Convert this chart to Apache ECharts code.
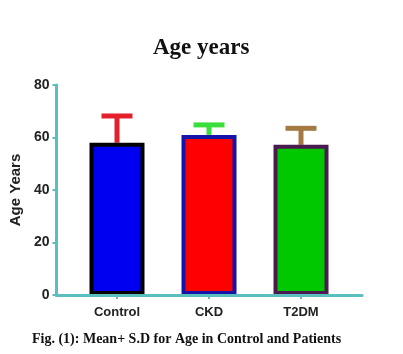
<!DOCTYPE html>
<html>
<head>
<meta charset="utf-8">
<script src="https://cdn.jsdelivr.net/npm/echarts@6/dist/echarts.min.js"></script>
<style>
html,body{margin:0;padding:0;background:#fff;}
#chart{width:403px;height:354px;}
</style>
</head>
<body>
<div id="chart"></div>
<script>
var categories = ['Control', 'CKD', 'T2DM'];
var meanValues = [58.0, 61.0, 57.2];
var sdValues = [10.2, 3.8, 6.3];
var yTicks = [0, 20, 40, 60, 80];

var fillColors = ['#0000f0', '#ff0000', '#00c800'];
var borderColors = ['#000000', '#1414a8', '#4b1a4e'];
var errColors = ['#e3202c', '#3ade3a', '#a27a42'];
var axisColor = '#5cbfbf';

var chart = echarts.init(document.getElementById('chart'), null, {renderer: 'canvas'});

var barData = meanValues.map(function (v, i) {
  return {
    value: v,
    itemStyle: {color: fillColors[i], borderColor: borderColors[i], borderWidth: 4}
  };
});
var errData = meanValues.map(function (v, i) { return [i, v, v + sdValues[i]]; });

var option = {
  animation: false,
  backgroundColor: '#ffffff',
  title: [{
    text: 'Age years',
    left: 148, top: 32,
    textStyle: {fontFamily: 'Liberation Serif', fontWeight: 'bold', fontSize: 23, color: '#111'}
  }, {
    text: 'Fig. (1): Mean+ S.D for Age in Control and Patients',
    left: 27, top: 327,
    textStyle: {fontFamily: 'Liberation Serif', fontWeight: 'bold', fontSize: 14, color: '#111'}
  }],
  grid: [
    {left: 55, right: 41, top: 85, bottom: 59},
    {left: 71, right: 56, top: 85, bottom: 59}
  ],
  xAxis: [{
    gridIndex: 0, type: 'category', data: ['', '', ''], z: 5,
    axisLine: {show: true, lineStyle: {color: axisColor, width: 3}},
    axisTick: {show: false}, axisLabel: {show: false}, splitLine: {show: false}
  }, {
    gridIndex: 1, type: 'category', data: categories,
    axisLine: {show: false},
    axisTick: {show: true, alignWithLabel: true, length: 4, lineStyle: {color: axisColor, width: 2}},
    axisLabel: {fontFamily: 'Liberation Sans', fontWeight: 'bold', fontSize: 13, color: '#222', margin: 11}
  }],
  yAxis: [{
    gridIndex: 0, type: 'value', min: yTicks[0], max: yTicks[yTicks.length - 1], interval: 20,
    name: 'Age Years', nameLocation: 'middle', nameGap: 31,
    nameTextStyle: {fontFamily: 'Liberation Sans', fontWeight: 'bold', fontSize: 15, color: '#222'},
    axisLine: {show: true, lineStyle: {color: axisColor, width: 3}},
    axisTick: {show: true, length: 4, lineStyle: {color: axisColor, width: 2}},
    axisLabel: {fontFamily: 'Liberation Sans', fontWeight: 'bold', fontSize: 14, color: '#222', margin: 7},
    splitLine: {show: false}
  }, {
    gridIndex: 1, type: 'value', min: yTicks[0], max: yTicks[yTicks.length - 1], show: false
  }],
  series: [{
    type: 'custom',
    xAxisIndex: 1, yAxisIndex: 1,
    z: 1,
    data: errData,
    renderItem: function (params, api) {
      var i = api.value(0);
      var lo = api.coord([i, api.value(1)]);
      var hi = api.coord([i, api.value(2)]);
      var half = 15.5;
      var c = errColors[params.dataIndex];
      return {
        type: 'group',
        children: [{
          type: 'line',
          shape: {x1: lo[0], y1: lo[1], x2: hi[0], y2: hi[1]},
          style: {stroke: c, lineWidth: 5}
        }, {
          type: 'line',
          shape: {x1: hi[0] - half, y1: hi[1], x2: hi[0] + half, y2: hi[1]},
          style: {stroke: c, lineWidth: 5}
        }]
      };
    }
  }, {
    type: 'bar',
    xAxisIndex: 1, yAxisIndex: 1,
    z: 2,
    barWidth: 55,
    data: barData
  }]
};
chart.setOption(option);
</script>
</body>
</html>
